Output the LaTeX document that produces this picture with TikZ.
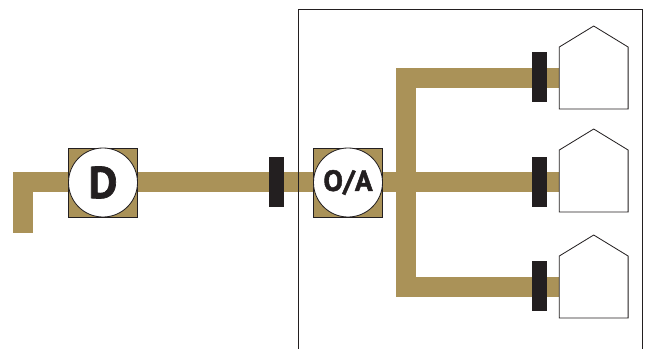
\documentclass[tikz,border=0pt]{standalone}
\usepackage{fontspec}
\setmainfont[BoldFeatures={FakeBold=1.5}]{PT Sans}
\usepackage{tikz}
\usetikzlibrary{positioning,calc,backgrounds}
\definecolor{pipegold}{RGB}{170,146,88}
\definecolor{barblack}{RGB}{35,31,32}
\tikzset{
  pipe/.style={line width=0.6cm,draw=pipegold,line join=miter},
  valvebox/.style={draw=barblack,fill=pipegold,line width=0.7pt,minimum size=2.07cm,inner sep=0pt},
  dial/.style={circle,draw=barblack,fill=white,line width=0.7pt,minimum size=2.07cm,inner sep=0pt,text=barblack,font=\bfseries},
  bar/.style={fill=barblack,minimum width=0.45cm,minimum height=1.5cm,inner sep=0pt},
  housebody/.style={draw=none,minimum width=2.05cm,minimum height=1.845cm,inner sep=0pt},
  houseline/.style={draw=barblack,line width=0.7pt,fill=white,line join=miter}
}
\begin{document}
\begin{tikzpicture}[x=0.03cm,y=-0.03cm]
  \useasboundingbox (0,0) rectangle (650,349);
  \draw[draw=barblack,line width=0.8pt] (298,349) -- (298,9.5) -- (642,9.5) -- (642,349);
  \node[valvebox] (dbox) at (103,182.5) {};
  \node[dial] (d) at (103,182.5) {\fontsize{38}{38}\selectfont D};
  \node[valvebox] (oabox) at (348,182.5) {};
  \node[dial] (oa) at (348,182.5) {\fontsize{25}{25}\selectfont O/A};
  \node[bar] (b0) at (276.5,182) {};
  \node[bar] (b1) at (539.5,77) {};
  \node[bar] (b2) at (539.5,182) {};
  \node[bar] (b3) at (539.5,286) {};
  \node[housebody] (h1) at (593.7,78) {};
  \node[housebody] (h2) at (593.7,181) {};
  \node[housebody] (h3) at (593.7,287) {};
  % roofs go with the bodies
  \foreach \h in {h1,h2,h3}
    \draw[houseline] (\h.south west) -- (\h.north west) -- ($(\h.north)+(0,-21)$) -- (\h.north east) -- (\h.south east) -- cycle;
  \coordinate (inlet) at (23,233);
  \coordinate (split) at (406,182);
  \begin{scope}[on background layer]
    \draw[pipe] (inlet) |- (split -| dbox);
    \draw[pipe] (split -| dbox) -- (split -| h2.west);
    \draw[pipe] (h1.west) -| (split) |- (h3.west);
  \end{scope}
\end{tikzpicture}
\end{document}
